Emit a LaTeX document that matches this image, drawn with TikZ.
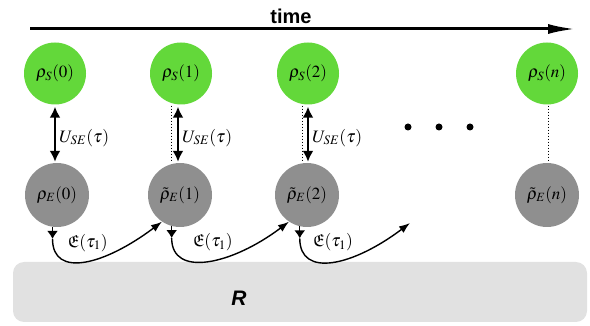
\documentclass[tikz,border=0pt]{standalone}
\usepackage{mathptmx}
\usepackage{amssymb}
\usepackage[no-math]{fontspec}
\newfontfamily\labelsans{Liberation Sans}
\usetikzlibrary{arrows.meta,calc}

\definecolor{sysgreen}{RGB}{99,216,58}
\definecolor{envgray}{RGB}{143,143,143}
\definecolor{resfill}{RGB}{225,225,225}

\begin{document}
\begin{tikzpicture}[x=1pt,y=-1pt,
  sysnode/.style={circle,fill=sysgreen,minimum size=62pt,inner sep=0pt,
    font=\fontsize{17}{19}\selectfont},
  envnode/.style={circle,fill=envgray,minimum size=64pt,inner sep=0pt,
    font=\fontsize{17}{19}\selectfont},
  coupling/.style={line width=2.4pt,{Latex[length=11pt,width=11pt]}-{Latex[length=11pt,width=11pt]}},
  tracer/.style={line width=1pt,dotted},
  drop/.style={line width=1.4pt,-{Latex[length=8pt,width=11pt]}},
  flow/.style={line width=1.4pt,-{Latex[length=11pt,width=8pt]}},
  maplabel/.style={anchor=west,inner sep=0pt,font=\fontsize{17.5}{19}\selectfont},
  dotnode/.style={circle,fill=black,inner sep=0pt,minimum size=7pt}]
\useasboundingbox (0,0) rectangle (590,326);

% reservoir
\fill[resfill,rounded corners=11pt] (13,262) rectangle (587,322);
\node[font=\labelsans\bfseries\itshape\fontsize{21}{24}\selectfont] (R) at (239,298) {R};

% time axis
\node[anchor=base,inner sep=0pt,font=\labelsans\bfseries\fontsize{20}{24}\selectfont] (time) at (291,24) {time};
\coordinate (t0) at (30,29);
\coordinate (t1) at (576,29);
\draw[line width=3pt,-{Latex[length=28pt,width=10pt]}] (t0) -- (t1);

% system states
\node[sysnode] (s0) at (55,73.5) {$\rho_S(0)$};
\node[sysnode] (s1) at (181,73.5) {$\rho_S(1)$};
\node[sysnode] (s2) at (308,73.5) {$\rho_S(2)$};
\node[sysnode] (sn) at (547,73.5) {$\rho_S(n)$};

% environment states
\node[envnode] (e0) at (57,195) {$\rho_E(0)$};
\node[envnode] (e1) at (180,195) {$\tilde{\rho}_E(1)$};
\node[envnode] (e2) at (307,195) {$\tilde{\rho}_E(2)$};
\node[envnode] (en) at (547,195) {$\tilde{\rho}_E(n)$};

% unitary couplings
\draw[coupling] ($(s0.south)+(0,2)$) -- ($(s0.south |- e0.north)+(0,-1)$);
\draw[coupling] ($(s1.south)+(-3,2)$) -- ($(s1.south |- e1.north)+(-3,-1)$);
\draw[coupling] ($(s2.south)+(0,2)$) -- ($(s2.south |- e2.north)+(0,-1)$);
\node[maplabel] (u0) at ($(s0.south)!0.5!(s0.south |- e0.north)+(4,4)$) {$U_{SE}(\tau)$};
\node[maplabel] (u1) at ($(s1.south)!0.5!(s1.south |- e1.north)+(1,4)$) {$U_{SE}(\tau)$};
\node[maplabel] (u2) at ($(s2.south)!0.5!(s2.south |- e2.north)+(4,4)$) {$U_{SE}(\tau)$};

% dotted traces
\draw[tracer] ($(s1.south)+(-10,1)$) -- ($(s1.south |- e1.north)+(-10,-1)$);
\draw[tracer] ($(s2.south)+(-6,1)$) -- ($(s2.south |- e2.north)+(-6,-1)$);
\draw[tracer] ($(sn.south)+(1,1)$) -- ($(sn.south |- en.north)+(1,-1)$);

% ellipsis
\node[dotnode] (dot1) at (408,127) {};
\node[dotnode] (dot2) at (439,127) {};
\node[dotnode] (dot3) at (470,127) {};

% environment maps through the reservoir
\draw[drop] (e0.262) -- ++(0,12) coordinate (d0);
\draw[drop] (e1.255) -- ++(0,12) coordinate (d1);
\draw[drop] (e2.257) -- ++(0,12) coordinate (d2);
\coordinate (dend) at (410,223);
\draw[flow] (d0) .. controls +(0,40) and +(-57,43) .. (e1.236);
\draw[flow] (d1) .. controls +(0,40) and +(-57,43) .. (e2.236);
\draw[flow] (d2) .. controls +(0,40) and +(-57,43) .. (dend);
\node[maplabel] (m0) at ($(d0)+(15,4)$) {$\mathfrak{E}(\tau_1)$};
\node[maplabel] (m1) at ($(d1)+(21,4)$) {$\mathfrak{E}(\tau_1)$};
\node[maplabel] (m2) at ($(d2)+(13,4)$) {$\mathfrak{E}(\tau_1)$};
\end{tikzpicture}
\end{document}
